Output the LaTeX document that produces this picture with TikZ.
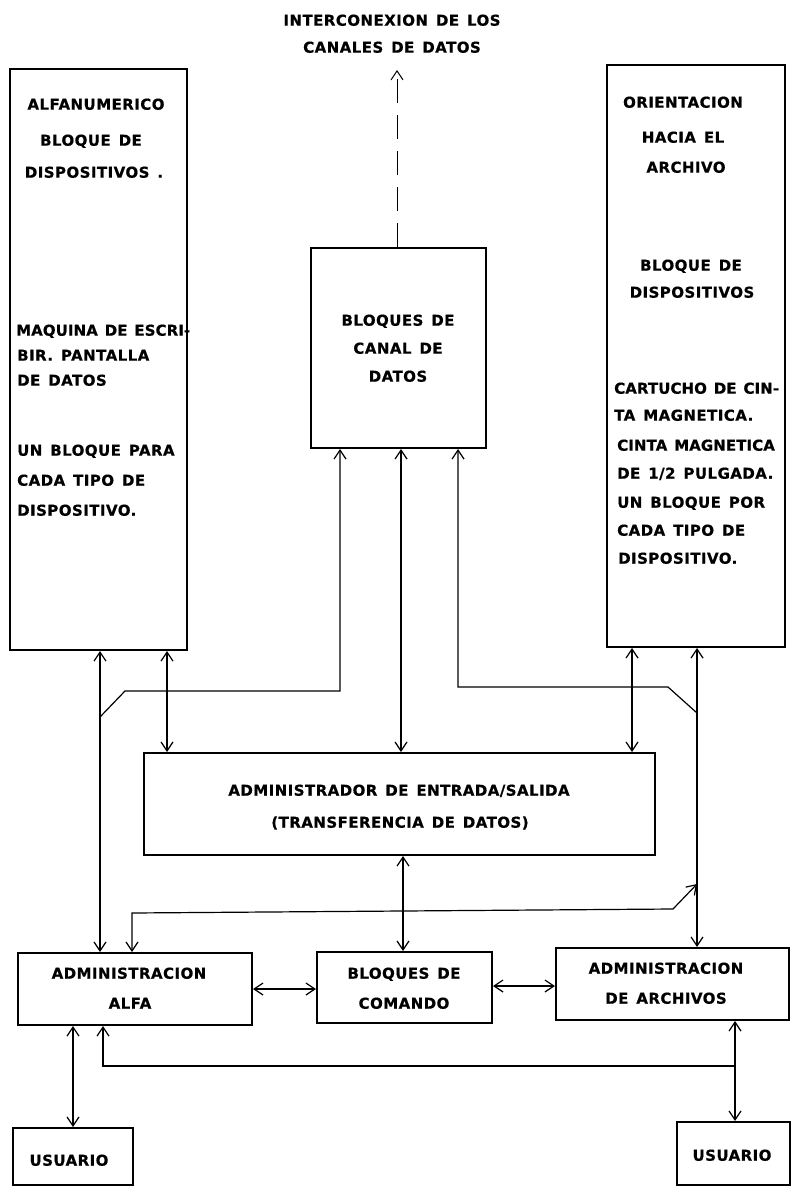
\documentclass[tikz,border=0pt]{standalone}
\usepackage{fontspec}
\newfontfamily\lblfont{DejaVu Sans Bold}[LetterSpace=3,WordSpace=1.4,FakeBold=0.6]
\newfontfamily\lblfonttight{DejaVu Sans Bold}[LetterSpace=0.5,WordSpace=1.3,FakeBold=0.6]
\usetikzlibrary{arrows.meta}
\begin{document}
\begin{tikzpicture}[x=1pt,y=-1pt,
  box/.style={draw, line width=2pt, inner sep=0pt, rectangle},
  conn/.style={line width=1.2pt, line join=miter},
  tip/.style={>={Straight Barb[length=9pt,width=12pt]}},
  lbl/.style={font=\fontsize{15}{18}\lblfont, inner sep=0pt, yshift=-0.7pt},
  lc/.style={lbl, anchor=base},
  ll/.style={lbl, anchor=base west},
  tight/.style={font=\fontsize{15}{18}\lblfonttight}]
\useasboundingbox (0,0) rectangle (792,1188);
\fill[white] (0,0) rectangle (792,1188);
\begin{scope}[tip]
% boxes
\node[box, minimum width=177, minimum height=581] (alnum) at (98.5,359.5) {};
\node[box, minimum width=175, minimum height=200] (canal) at (398.5,348) {};
\node[box, minimum width=178, minimum height=582] (orient) at (696,356) {};
\node[box, minimum width=511, minimum height=102] (io) at (399.5,804) {};
\node[box, minimum width=234, minimum height=72] (alfa) at (135,989) {};
\node[box, minimum width=175, minimum height=71] (comando) at (404.5,987.5) {};
\node[box, minimum width=233, minimum height=72] (archiv) at (672.5,984) {};
\node[box, minimum width=120, minimum height=57] (usr1) at (73,1156.5) {};
\node[box, minimum width=113, minimum height=63] (usr2) at (733.5,1153.5) {};

% top text
\node[lc] (t1) at (392,25) {INTERCONEXION DE LOS};
\node[lc] (t2) at (392,52) {CANALES DE DATOS};
\coordinate (topend) at (397,70);
\draw[conn,->,line width=1pt,dash pattern=on 24pt off 12pt] (397,0 |- canal.north) -- (topend);

% left box text
\node[lc] (a1) at (96,109) {ALFANUMERICO};
\node[lc] (a2) at (91,145) {BLOQUE DE};
\node[lc] (a3) at (94,177) {DISPOSITIVOS .};
\node[ll,tight] (a4) at (16,335) {MAQUINA DE ESCRI-};
\node[ll] (a5) at (17,360) {BIR. PANTALLA};
\node[ll] (a6) at (17,385) {DE DATOS};
\node[ll] (a7) at (17,455) {UN BLOQUE PARA};
\node[ll] (a8) at (17,485) {CADA TIPO DE};
\node[ll] (a9) at (17,515) {DISPOSITIVO.};

% center box text
\node[lc] (c1) at (398,325) {BLOQUES DE};
\node[lc] (c2) at (398,353) {CANAL DE};
\node[lc] (c3) at (398,381) {DATOS};

% right box text
\node[lc] (r1) at (683,107) {ORIENTACION};
\node[lc] (r2) at (683,142) {HACIA EL};
\node[lc] (r3) at (686,172) {ARCHIVO};
\node[lc] (r4) at (691,270) {BLOQUE DE};
\node[lc] (r5) at (692,297) {DISPOSITIVOS};
\node[ll,tight] (r6) at (614,393) {CARTUCHO DE CIN-};
\node[ll] (r7) at (614,420) {TA MAGNETICA.};
\node[ll,tight] (r8) at (617,450) {CINTA MAGNETICA};
\node[ll] (r9) at (617,478) {DE 1/2 PULGADA.};
\node[ll] (r10) at (617,507) {UN BLOQUE POR};
\node[ll] (r11) at (617,535) {CADA TIPO DE};
\node[ll] (r12) at (618,563) {DISPOSITIVO.};

% io text
\node[lc] (i1) at (399,795) {ADMINISTRADOR DE ENTRADA/SALIDA};
\node[lc] (i2) at (400,827) {(TRANSFERENCIA DE DATOS)};

% lower boxes text
\node[lc] (f1) at (129,978) {ADMINISTRACION};
\node[lc] (f2) at (130,1008) {ALFA};
\node[lc] (k1) at (404,978) {BLOQUES DE};
\node[lc] (k2) at (404,1008) {COMANDO};
\node[lc] (h1) at (666,973) {ADMINISTRACION};
\node[lc] (h2) at (666,1003) {DE ARCHIVOS};
\node[lc] (u1) at (69,1165) {USUARIO};
\node[lc] (u2) at (732,1160) {USUARIO};

% connectors
\draw[conn,<->] (100,0 |- alnum.south) -- (100,0 |- alfa.north);
\coordinate (j1) at (100,717);
\draw[conn,->] (j1) -- (125,691) -- (340,691) -- (340,0 |- canal.south);
\draw[conn,<->] (167,0 |- alnum.south) -- (167,0 |- io.north);
\draw[conn,<->] (401,0 |- canal.south) -- (401,0 |- io.north);
\coordinate (j2) at (697,713);
\draw[conn,->] (j2) -- (668,687) -- (458,687) -- (458,0 |- canal.south);
\draw[conn,<->] (632,0 |- orient.south) -- (632,0 |- io.north);
\draw[conn,<->] (697,0 |- orient.south) -- (697,0 |- archiv.north);
\draw[conn,<->] (403,0 |- io.south) -- (403,0 |- comando.north);
\coordinate (j3) at (697,884);
\draw[conn,<->] (132,0 |- alfa.north) -- (132,913) -- (673,909) -- (j3);
\draw[conn,<->] (alfa.east) -- (alfa.east -| comando.west);
\draw[conn,<->] (archiv.west |- 0,986) -- (comando.east |- 0,986);
\draw[conn,<->] (73,0 |- alfa.south) -- (73,0 |- usr1.north);
\coordinate (j4) at (735,1066);
\draw[conn,->] (j4) -- (103,1066) -- (103,0 |- alfa.south);
\draw[conn,<->] (735,0 |- archiv.south) -- (735,0 |- usr2.north);
\end{scope}
\end{tikzpicture}
\end{document}
